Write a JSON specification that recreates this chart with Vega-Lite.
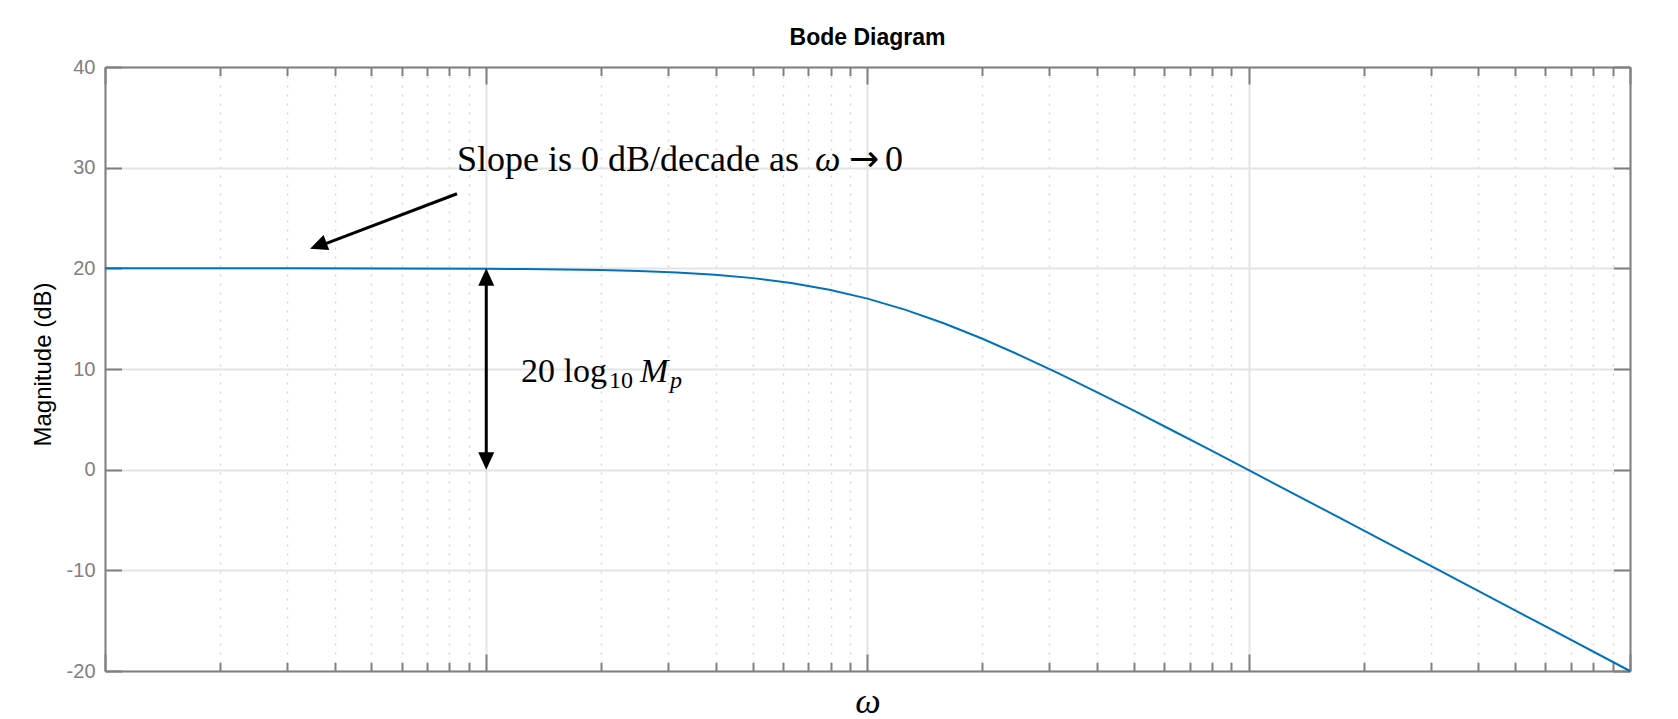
{
  "$schema": "https://vega.github.io/schema/vega-lite/v6.json",
  "width": 1525,
  "height": 604,
  "autosize": {"type": "none"},
  "padding": {"left": 105, "top": 67, "right": 48, "bottom": 48},
  "background": "white",
  "config": {"view": {"stroke": null}},
  "title": {"text": "Bode Diagram", "font": "Liberation Sans", "fontSize": 23, "fontWeight": "bold", "color": "black", "anchor": "middle", "frame": "group", "baseline": "alphabetic", "offset": -11},
  "resolve": {"axis": {"x": "independent", "y": "independent"}},
  "layer": [
    {
      "data": {"values": [
        {"w":0.01,"db":20.0},{"w":0.03162,"db":19.996},{"w":0.1,"db":19.957},{"w":0.1259,"db":19.932},{"w":0.1585,"db":19.892},{"w":0.1995,"db":19.83},{"w":0.2512,"db":19.734},{"w":0.3162,"db":19.586},{"w":0.3981,"db":19.361},{"w":0.5012,"db":19.027},{"w":0.631,"db":18.545},{"w":0.7943,"db":17.876},{"w":1,"db":16.99},{"w":1.2589,"db":15.876},{"w":1.5849,"db":14.545},{"w":1.9953,"db":13.027},{"w":2.5119,"db":11.361},{"w":3.1623,"db":9.586},{"w":3.9811,"db":7.734},{"w":5.0119,"db":5.83},{"w":6.3096,"db":3.892},{"w":7.9433,"db":1.932},{"w":10,"db":-0.043},{"w":17.783,"db":-5.014},{"w":31.623,"db":-10.004},{"w":56.234,"db":-15.001},{"w":100,"db":-20.0}
      ]},
      "mark": {"type": "line", "color": "#0072BD", "strokeWidth": 2},
      "encoding": {
        "x": {"field": "w", "type": "quantitative",
          "scale": {"type": "log", "domain": [0.01, 100], "nice": false},
          "axis": {"orient": "bottom",
            "values": [0.01,0.02,0.03,0.04,0.05,0.06,0.07,0.08,0.09,0.1,0.2,0.3,0.4,0.5,0.6,0.7,0.8,0.9,1,2,3,4,5,6,7,8,9,10,20,30,40,50,60,70,80,90,100],
            "grid": true,
            "gridColor": {"condition": {"test": "abs(log(datum.value)/LN10 - round(log(datum.value)/LN10)) < 0.001", "value": "#e3e3e3"}, "value": "#d6d6d6"},
            "gridDash": {"condition": {"test": "abs(log(datum.value)/LN10 - round(log(datum.value)/LN10)) < 0.001", "value": []}, "value": [2, 7]},
            "gridWidth": {"condition": {"test": "abs(log(datum.value)/LN10 - round(log(datum.value)/LN10)) < 0.001", "value": 2}, "value": 1.5},
            "ticks": true,
            "tickSize": {"condition": {"test": "abs(log(datum.value)/LN10 - round(log(datum.value)/LN10)) < 0.001", "value": -17}, "value": -8.5},
            "tickColor": "#808080", "tickWidth": 2,
            "labels": false,
            "domain": true, "domainColor": "#808080", "domainWidth": 2,
            "title": "ω", "titleFont": "Liberation Serif", "titleFontStyle": "italic", "titleFontSize": 36, "titleFontWeight": "normal", "titleColor": "black",
            "titleX": 762.5, "titleY": 41, "titleBaseline": "alphabetic", "titleAlign": "center"
          }
        },
        "y": {"field": "db", "type": "quantitative",
          "scale": {"domain": [-20, 40], "nice": false},
          "axis": {"orient": "left",
            "values": [-20,-10,0,10,20,30,40],
            "labelExpr": "'' + datum.value",
            "grid": true, "gridColor": "#e3e3e3", "gridWidth": 2,
            "ticks": true, "tickSize": -16.5, "tickColor": "#808080", "tickWidth": 2,
            "labels": true, "labelPadding": 26.5, "labelFont": "Liberation Sans", "labelFontSize": 20, "labelColor": "#808080",
            "domain": true, "domainColor": "#808080", "domainWidth": 2,
            "title": "Magnitude (dB)", "titleFont": "Liberation Sans", "titleFontSize": 24, "titleFontWeight": "normal", "titleColor": "black",
            "titleAngle": 270, "titleX": -55, "titleY": 297, "titleBaseline": "alphabetic", "titleAlign": "center"
          }
        }
      }
    },
    {
      "data": {"values": [{"w":0.01,"db":-20},{"w":100,"db":40}]},
      "mark": {"type": "line", "opacity": 0},
      "encoding": {
        "x": {"field": "w", "type": "quantitative",
          "scale": {"type": "log", "domain": [0.01, 100], "nice": false},
          "axis": {"orient": "top",
            "values": [0.01,0.02,0.03,0.04,0.05,0.06,0.07,0.08,0.09,0.1,0.2,0.3,0.4,0.5,0.6,0.7,0.8,0.9,1,2,3,4,5,6,7,8,9,10,20,30,40,50,60,70,80,90,100],
            "grid": false,
            "ticks": true,
            "tickSize": {"condition": {"test": "abs(log(datum.value)/LN10 - round(log(datum.value)/LN10)) < 0.001", "value": -17}, "value": -8.5},
            "tickColor": "#808080", "tickWidth": 2,
            "labels": false,
            "domain": true, "domainColor": "#808080", "domainWidth": 2,
            "title": null
          }
        },
        "y": {"field": "db", "type": "quantitative",
          "scale": {"domain": [-20, 40], "nice": false},
          "axis": {"orient": "right",
            "values": [-20,-10,0,10,20,30,40],
            "grid": false,
            "ticks": true, "tickSize": -16.5, "tickColor": "#808080", "tickWidth": 2,
            "labels": false,
            "domain": true, "domainColor": "#808080", "domainWidth": 2,
            "title": null
          }
        }
      }
    },
    {
      "data": {"values": [{"x": 0.0838, "y": 27.41, "x2": 0.0366, "y2": 22.24}, {"x": 0.1, "y": 19, "x2": 0.1, "y2": 1}]},
      "mark": {"type": "rule", "color": "black", "strokeWidth": 3},
      "encoding": {
        "x": {"field": "x", "type": "quantitative", "scale": {"type": "log", "domain": [0.01, 100], "nice": false}, "axis": null},
        "y": {"field": "y", "type": "quantitative", "scale": {"domain": [-20, 40], "nice": false}, "axis": null},
        "x2": {"field": "x2"},
        "y2": {"field": "y2"}
      }
    },
    {
      "data": {"values": [{"x": 0.0345, "y": 21.95, "dir": 249.2}, {"x": 0.1, "y": 20, "dir": 0}, {"x": 0.1, "y": 0, "dir": 180}]},
      "mark": {"type": "point", "shape": "M0,0L-0.8,1.75L0.8,1.75Z", "size": 400, "filled": true, "fill": "black", "strokeWidth": 0, "opacity": 1},
      "encoding": {
        "x": {"field": "x", "type": "quantitative", "scale": {"type": "log", "domain": [0.01, 100], "nice": false}, "axis": null},
        "y": {"field": "y", "type": "quantitative", "scale": {"domain": [-20, 40], "nice": false}, "axis": null},
        "angle": {"field": "dir", "type": "quantitative", "scale": null}
      }
    },
    {
      "data": {"values": [{"x": 0.0838, "y": 29.7, "t": "Slope is 0 dB/decade as"}, {"x": 1.1115, "y": 29.7, "t": "0"}]},
      "mark": {"type": "text", "align": "left", "baseline": "alphabetic", "font": "Liberation Serif", "fontSize": 36, "color": "black"},
      "encoding": {
        "x": {"field": "x", "type": "quantitative", "scale": {"type": "log", "domain": [0.01, 100], "nice": false}, "axis": null},
        "y": {"field": "y", "type": "quantitative", "scale": {"domain": [-20, 40], "nice": false}, "axis": null},
        "text": {"field": "t"}
      }
    },
    {
      "data": {"values": [{"x": 0.7282, "y": 29.7, "t": "ω"}]},
      "mark": {"type": "text", "align": "left", "baseline": "alphabetic", "font": "Liberation Serif", "fontSize": 36, "fontStyle": "italic", "color": "black"},
      "encoding": {
        "x": {"field": "x", "type": "quantitative", "scale": {"type": "log", "domain": [0.01, 100], "nice": false}, "axis": null},
        "y": {"field": "y", "type": "quantitative", "scale": {"domain": [-20, 40], "nice": false}, "axis": null},
        "text": {"field": "t"}
      }
    },
    {
      "data": {"values": [{"x": 0.8943, "y": 29.7, "t": "→"}]},
      "mark": {"type": "text", "align": "left", "baseline": "alphabetic", "font": "DejaVu Sans", "fontSize": 36, "color": "black"},
      "encoding": {
        "x": {"field": "x", "type": "quantitative", "scale": {"type": "log", "domain": [0.01, 100], "nice": false}, "axis": null},
        "y": {"field": "y", "type": "quantitative", "scale": {"domain": [-20, 40], "nice": false}, "axis": null},
        "text": {"field": "t"}
      }
    },
    {
      "data": {"values": [{"x": 0.1234, "y": 8.74, "t": "20 log"}]},
      "mark": {"type": "text", "align": "left", "baseline": "alphabetic", "font": "Liberation Serif", "fontSize": 34, "color": "black"},
      "encoding": {
        "x": {"field": "x", "type": "quantitative", "scale": {"type": "log", "domain": [0.01, 100], "nice": false}, "axis": null},
        "y": {"field": "y", "type": "quantitative", "scale": {"domain": [-20, 40], "nice": false}, "axis": null},
        "text": {"field": "t"}
      }
    },
    {
      "data": {"values": [{"x": 0.2099, "y": 8.11, "t": "10"}]},
      "mark": {"type": "text", "align": "left", "baseline": "alphabetic", "font": "Liberation Serif", "fontSize": 24, "color": "black"},
      "encoding": {
        "x": {"field": "x", "type": "quantitative", "scale": {"type": "log", "domain": [0.01, 100], "nice": false}, "axis": null},
        "y": {"field": "y", "type": "quantitative", "scale": {"domain": [-20, 40], "nice": false}, "axis": null},
        "text": {"field": "t"}
      }
    },
    {
      "data": {"values": [{"x": 0.2531, "y": 8.74, "t": "M"}]},
      "mark": {"type": "text", "align": "left", "baseline": "alphabetic", "font": "Liberation Serif", "fontSize": 34, "fontStyle": "italic", "color": "black"},
      "encoding": {
        "x": {"field": "x", "type": "quantitative", "scale": {"type": "log", "domain": [0.01, 100], "nice": false}, "axis": null},
        "y": {"field": "y", "type": "quantitative", "scale": {"domain": [-20, 40], "nice": false}, "axis": null},
        "text": {"field": "t"}
      }
    },
    {
      "data": {"values": [{"x": 0.3034, "y": 8.11, "t": "p"}]},
      "mark": {"type": "text", "align": "left", "baseline": "alphabetic", "font": "Liberation Serif", "fontSize": 24, "fontStyle": "italic", "color": "black"},
      "encoding": {
        "x": {"field": "x", "type": "quantitative", "scale": {"type": "log", "domain": [0.01, 100], "nice": false}, "axis": null},
        "y": {"field": "y", "type": "quantitative", "scale": {"domain": [-20, 40], "nice": false}, "axis": null},
        "text": {"field": "t"}
      }
    }
  ]
}
